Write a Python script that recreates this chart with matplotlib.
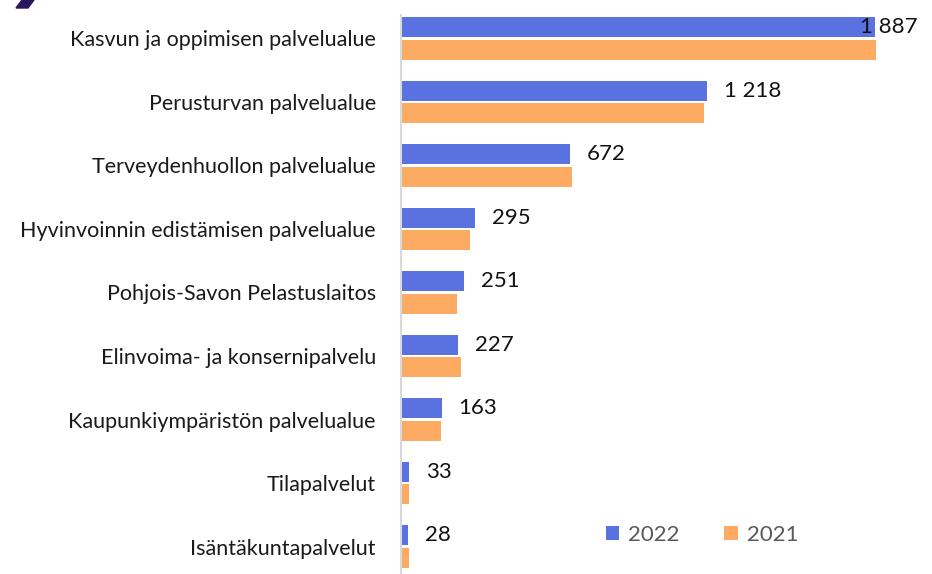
"""Horizontal grouped bar chart: service areas, 2022 vs 2021."""
import matplotlib

matplotlib.use("Agg")
import matplotlib.pyplot as plt  # noqa: E402
from matplotlib.patches import Polygon  # noqa: E402

CATEGORIES = ["Kasvun ja oppimisen palvelualue", "Perusturvan palvelualue",
              "Terveydenhuollon palvelualue", "Hyvinvoinnin edistämisen palvelualue",
              "Pohjois-Savon Pelastuslaitos", "Elinvoima- ja konsernipalvelu",
              "Kaupunkiympäristön palvelualue", "Tilapalvelut", "Isäntäkuntapalvelut"]
VALUES_2022 = [1887, 1218, 672, 295, 251, 227, 163, 33, 28]
VALUES_2021 = [1892, 1208, 680, 274, 224, 237, 158, 33, 31]
SERIES = ["2022", "2021"]

BLUE = "#5A72DF"
ORANGE = "#FDAA63"
FONT = "Lato"


def label(v):
    return f"{v:,}".replace(",", " ")


fig = plt.figure(figsize=(9.32, 5.74), dpi=100)
ax = fig.add_axes([401 / 932, 0, 517 / 932, 1 - 15 / 574])

y = list(range(len(CATEGORIES)))
off = 0.181
h = 0.315
ax.barh([p - off for p in y], VALUES_2022, height=h, color=BLUE, label=SERIES[0])
ax.barh([p + off for p in y], VALUES_2021, height=h, color=ORANGE, label=SERIES[1])

xmax = 2058
ax.set_xlim(0, xmax)
ax.set_ylim(len(CATEGORIES) - 1 + 0.433, -0.37)

for p, v in zip(y, VALUES_2022):
    txt = label(v)
    if v > 0.85 * xmax:
        ax.text(xmax, p - off, txt, ha="right", va="center", fontsize=16,
                family=FONT, color="#111111")
    else:
        ax.annotate(txt, (v, p - off), xytext=(12, 0), textcoords="offset points",
                    ha="left", va="center", fontsize=16, family=FONT, color="#111111")

ax.set_yticks(y)
ax.set_yticklabels(CATEGORIES, family=FONT, fontsize=15.5, color="#1a1a1a")
ax.tick_params(axis="y", length=0, pad=18)
ax.set_xticks([])
for s in ("top", "right", "bottom"):
    ax.spines[s].set_visible(False)
ax.spines["left"].set_color("#D9D9D9")
ax.spines["left"].set_linewidth(1.5)

leg = ax.legend(loc="center", bbox_to_anchor=(702 / 932, 1 - 535 / 574),
                bbox_transform=fig.transFigure, ncol=2, frameon=False,
                prop={"family": FONT, "size": 16}, handlelength=0.62, handleheight=0.62,
                columnspacing=2.0, handletextpad=0.4)
for t in leg.get_texts():
    t.set_color("#595959")

# logo fragment in the top-left corner
fig.patches.append(Polygon([(16 / 932, 1 - 8 / 574), (22 / 932, 1.0), (34 / 932, 1.0),
                            (28 / 932, 1 - 8 / 574)], closed=True,
                           transform=fig.transFigure, color="#2A1560"))

fig.savefig("out.png", dpi=100, facecolor="white")
